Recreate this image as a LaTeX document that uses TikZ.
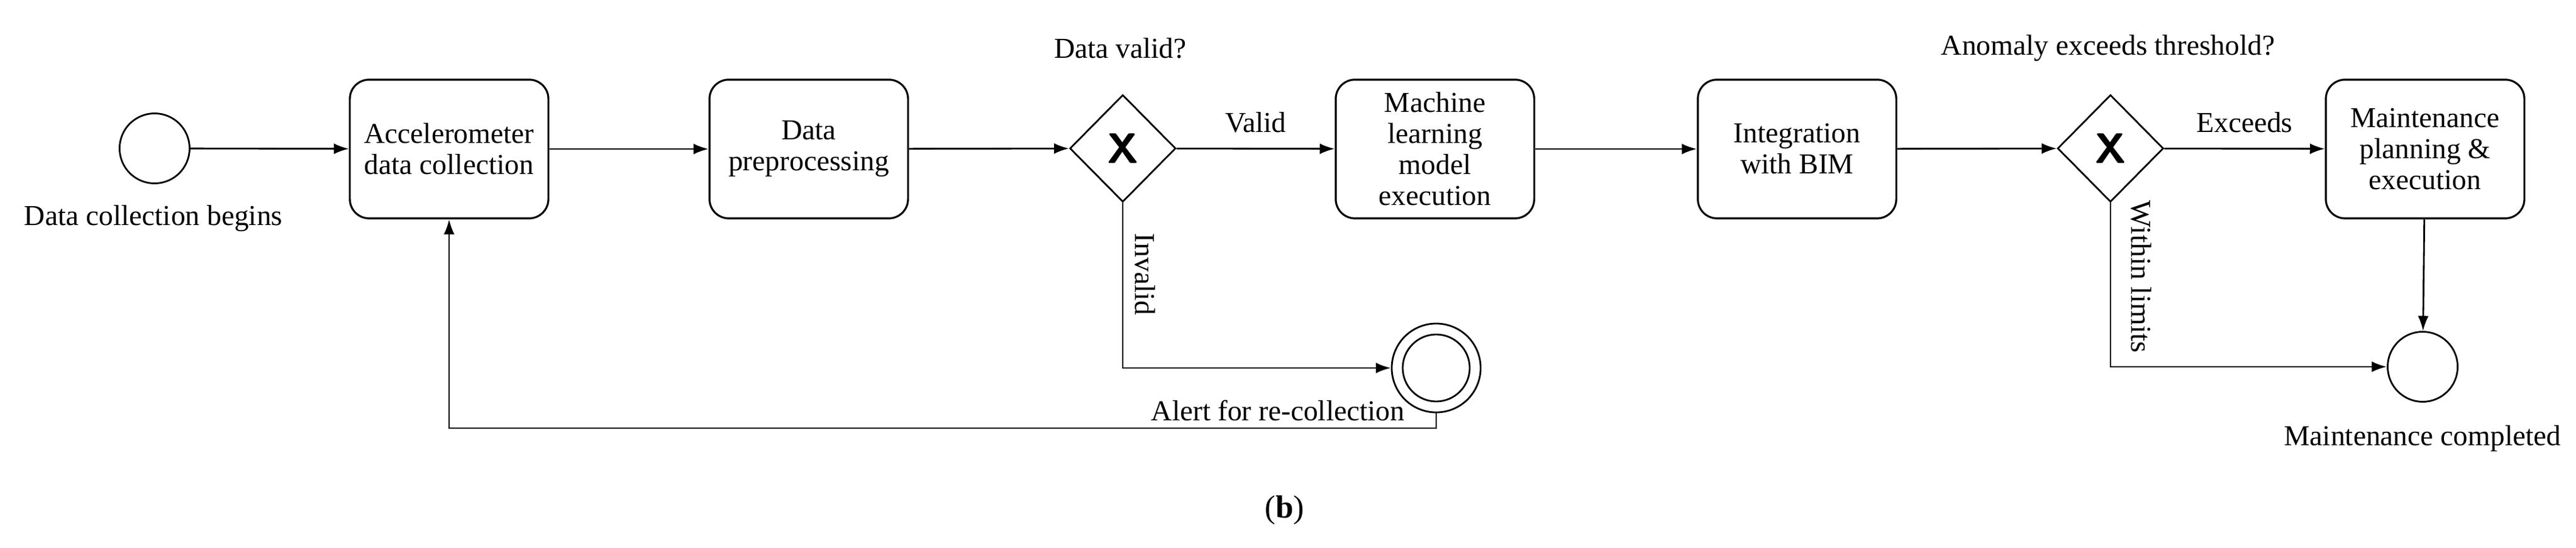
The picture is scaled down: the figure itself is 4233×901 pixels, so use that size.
\documentclass[tikz,border=0pt]{standalone}
\usepackage{fontspec}
\setmainfont{Liberation Serif}
\usetikzlibrary{shapes.geometric,arrows.meta}
\begin{document}
\begin{tikzpicture}[x=0.01cm,y=-0.01cm,
  font=\fontsize{13.5}{14.5}\selectfont,
  task/.style={draw,line width=0.9pt,rounded corners=9pt,minimum width=3.26cm,minimum height=2.28cm,align=center,inner sep=2pt},
  gw/.style={draw,line width=0.8pt,diamond,minimum width=1.74cm,minimum height=1.76cm,inner sep=0pt,font=\sffamily\bfseries\fontsize{20}{20}\selectfont},
  ev/.style={draw,line width=0.8pt,circle,minimum size=1.15cm,inner sep=0pt},
  flow/.style={line width=0.8pt,-{Latex[length=7pt,width=5pt]}},
  lbl/.style={inner sep=1pt}]
\useasboundingbox (0,0) rectangle (4233,901);
\node[ev] (start) at (254,244) {};
\node[lbl] (startl) at (252,359) {Data collection begins};
\node[task] (acc) at (738,245) {Accelerometer\\data collection};
\node[task] (pre) at (1329,245) {Data\\preprocessing};
\node[gw] (g1) at (1845,244) {X};
\node[lbl] (g1l) at (1841,79) {Data valid?};
\node[task] (ml) at (2358,245) {Machine\\learning\\model\\execution};
\node[task] (bim) at (2953,245) {Integration\\with BIM};
\node[gw] (g2) at (3468,244) {X};
\node[lbl] (g2l) at (3464,79) {Anomaly exceeds threshold?};
\node[task] (mnt) at (3985,245) {Maintenance\\planning \&\\execution};
\node[ev,minimum size=1.46cm] (alert) at (2360,605) {};
\node[circle,draw,line width=0.8pt,minimum size=1.1cm,inner sep=0pt] (alerti) at (alert.center) {};
\node[lbl] (alertl) at (2100,675) {Alert for re-collection};
\node[ev] (endm) at (3981,603) {};
\node[lbl] (endl) at (3981,721) {Maintenance completed};
\node (cap) at (2111,839) {\fontsize{15}{18}\selectfont(\textbf{b})};
\node[lbl,rotate=-90] (invl) at (1882,451) {Invalid};
\node[lbl,rotate=-90] (wll) at (3519,455) {Within limits};
\coordinate (c1) at (g1.south |- alert.west);
\coordinate (c2) at (alert.south |- 0,704);
\coordinate (c3) at (acc.south |- 0,704);
\coordinate (c4) at (g2.south |- endm.west);
\draw[flow] (start) -- (acc);
\draw[flow] (acc) -- (pre);
\draw[flow] (pre) -- (g1);
\draw[flow] (g1) -- node[lbl,above=6pt] {Valid} (ml);
\draw[flow] (ml) -- (bim);
\draw[flow] (bim) -- (g2);
\draw[flow] (g2) -- node[lbl,above=6pt] {Exceeds} (mnt);
\draw[flow] (mnt) -- (endm);
\draw[flow] (g1.south) -- (c1) -- (alert.west);
\draw[flow] (alert.south) -- (c2) -- (c3) -- (acc.south);
\draw[flow] (g2.south) -- (c4) -- (endm.west);
\end{tikzpicture}
\end{document}
